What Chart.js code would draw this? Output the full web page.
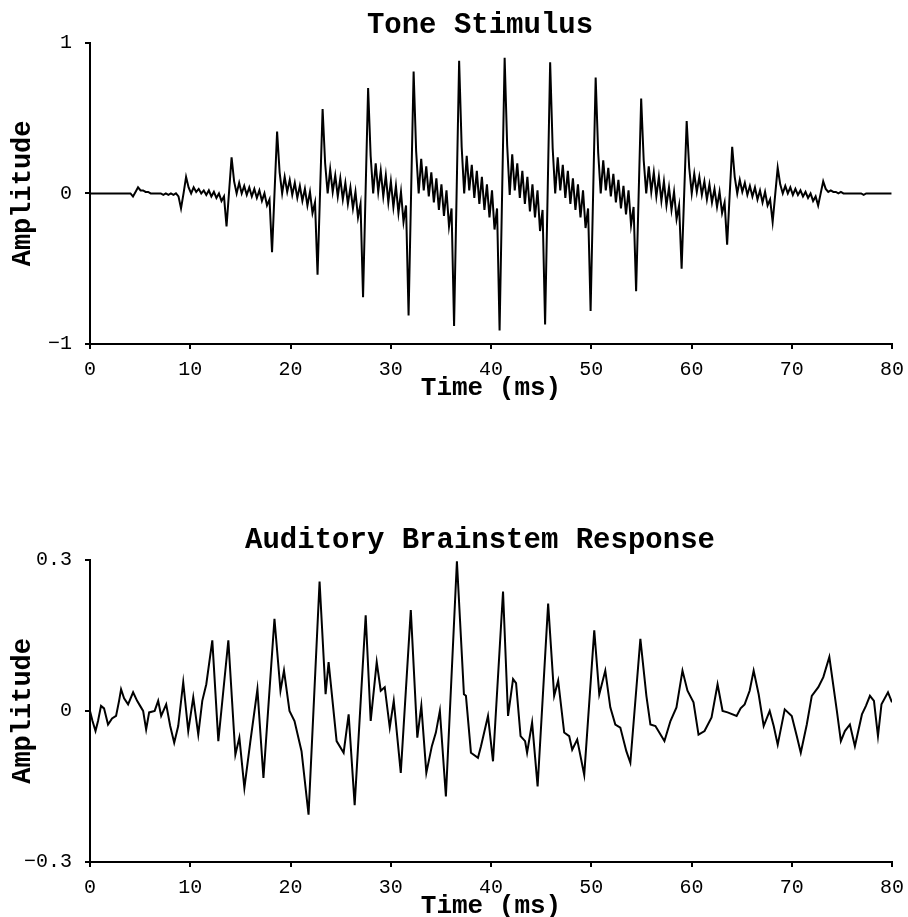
<!DOCTYPE html>
<html>
<head>
<meta charset="utf-8">
<script src="https://cdn.jsdelivr.net/npm/chart.js@4.4.1/dist/chart.umd.min.js"></script>
<style>
  html, body { margin: 0; padding: 0; background: #fff; overflow: hidden; }
  #wrap { position: relative; width: 908px; height: 917px; overflow: hidden; }
  canvas { position: absolute; left: 0; }
  #stim-chart { top: 0; }
  #abr-chart { top: 458px; }
</style>
</head>
<body>
<div id="wrap">
  <canvas id="stim-chart" width="908" height="454"></canvas>
  <canvas id="abr-chart" width="908" height="470"></canvas>
</div>
<script>
// Tone stimulus: one sample every stimStep ms, one row per burst period
var stimStep = 0.2522;
var stimAmp = [
  0, 0, 0, 0, 0, 0, 0, 0, 0, 0, 0, 0, 0, 0, 0, 0, 0, -0.02,
  0.01, 0.04, 0.02, 0.02, 0.01, 0.01, 0, 0, 0, 0, 0, -0.01, 0, -0.01, 0, -0.01, 0, -0.02,
  -0.10, 0.0, 0.11, 0.04, 0.0, 0.04, 0.01, 0.03, 0.0, 0.02, -0.01, 0.02, -0.02, 0.01, -0.03, 0.0, -0.05, -0.02,
  -0.22, 0.01, 0.24, 0.08, 0.0, 0.07, 0.0, 0.05, -0.01, 0.04, -0.02, 0.03, -0.03, 0.02, -0.05, 0.0, -0.08, -0.04,
  -0.39, 0.01, 0.41, 0.14, 0.0, 0.11, 0.01, 0.09, -0.01, 0.07, -0.03, 0.05, -0.05, 0.03, -0.08, 0.01, -0.13, -0.06,
  -0.54, 0.01, 0.56, 0.20, 0.0, 0.16, 0.01, 0.12, -0.02, 0.10, -0.04, 0.07, -0.07, 0.04, -0.10, 0.01, -0.16, -0.07,
  -0.69, 0.01, 0.70, 0.25, 0.0, 0.20, 0.01, 0.15, -0.02, 0.12, -0.06, 0.08, -0.09, 0.05, -0.13, 0.01, -0.19, -0.08,
  -0.81, 0.0, 0.81, 0.28, 0.0, 0.23, 0.02, 0.18, -0.02, 0.14, -0.06, 0.10, -0.11, 0.06, -0.15, 0.02, -0.22, -0.10,
  -0.88, 0.0, 0.88, 0.31, 0.0, 0.25, 0.02, 0.19, -0.03, 0.15, -0.07, 0.11, -0.11, 0.06, -0.16, 0.02, -0.24, -0.10,
  -0.91, 0.0, 0.90, 0.32, -0.01, 0.26, 0.02, 0.20, -0.03, 0.15, -0.07, 0.11, -0.12, 0.06, -0.16, 0.02, -0.25, -0.11,
  -0.87, 0.0, 0.87, 0.30, 0.0, 0.24, 0.02, 0.19, -0.03, 0.15, -0.07, 0.10, -0.11, 0.06, -0.16, 0.02, -0.23, -0.10,
  -0.78, 0.0, 0.77, 0.27, 0.0, 0.22, 0.02, 0.17, -0.02, 0.13, -0.06, 0.09, -0.10, 0.05, -0.14, 0.02, -0.21, -0.09,
  -0.65, -0.01, 0.63, 0.22, 0.0, 0.18, 0.01, 0.14, -0.02, 0.11, -0.05, 0.08, -0.08, 0.04, -0.11, 0.01, -0.17, -0.08,
  -0.50, -0.01, 0.48, 0.17, 0.0, 0.13, 0.01, 0.11, -0.01, 0.08, -0.04, 0.06, -0.06, 0.03, -0.09, 0.01, -0.13, -0.06,
  -0.34, -0.01, 0.31, 0.11, 0.0, 0.09, 0.01, 0.07, -0.01, 0.05, -0.02, 0.04, -0.04, 0.02, -0.06, 0.01, -0.08, -0.04,
  -0.19, -0.01, 0.17, 0.06, 0.0, 0.05, 0.0, 0.04, -0.01, 0.03, -0.01, 0.02, -0.02, 0.01, -0.03, 0.0, -0.05, -0.02,
  -0.08, 0.0, 0.08, 0.03, 0.01, 0.02, 0.01, 0.01, 0.0, 0.01, 0, 0, 0, 0, 0, 0, 0, 0,
  -0.01, 0, 0, 0, 0, 0, 0, 0, 0, 0, 0, 0
];

// Auditory brainstem response, read point by point
var abrTime = [
  0.0, 0.25, 0.55, 0.8, 1.1, 1.4, 1.8, 2.2, 2.6, 2.9, 3.1, 3.4, 3.8, 4.3, 4.7, 5.0, 5.3, 5.6, 5.9, 6.45,
  6.8, 7.1, 7.6, 8.0, 8.4, 8.8, 9.3, 9.8, 10.3, 10.8, 11.2, 11.6, 12.2, 12.8, 13.3, 13.8, 14.5, 14.9, 15.4, 16.0,
  16.7, 17.3, 18.4, 19.0, 19.35, 19.9, 20.4, 21.1, 21.8, 22.9, 23.5, 23.8, 24.6, 25.3, 25.8, 26.4, 27.5, 28.0, 28.6, 29.0,
  29.4, 29.9, 30.3, 31.0, 32.0, 32.65, 33.05, 33.55, 34.1, 34.5, 34.9, 35.5, 36.6, 37.3, 37.5, 38.0, 38.7, 39.0, 39.7, 40.2,
  41.2, 41.7, 42.2, 42.5, 42.95, 43.4, 43.6, 44.1, 44.65, 45.7, 46.3, 46.7, 47.3, 47.8, 48.1, 48.6, 49.3, 50.3, 50.8, 51.4,
  51.9, 52.4, 52.9, 53.5, 53.9, 54.9, 55.5, 55.9, 56.4, 57.3, 57.9, 58.5, 59.1, 59.6, 60.2, 60.7, 61.3, 62.0, 62.6, 63.1,
  63.6, 64.5, 64.9, 65.3, 65.8, 66.2, 66.7, 67.2, 67.8, 68.2, 68.6, 69.3, 70.0, 70.5, 70.9, 71.5, 72.0, 72.65, 73.15, 73.75,
  74.5, 74.9, 75.3, 75.8, 76.3, 77.0, 77.4, 77.8, 78.2, 78.6, 78.95, 79.6, 80.0
];
var abrAmp = [
  0.0, -0.02, -0.04, -0.02, 0.01, 0.005, -0.027, -0.015, -0.01, 0.02, 0.043, 0.025, 0.013, 0.037, 0.02, 0.01, 0.0, -0.037, -0.003, 0.0,
  0.02, -0.01, 0.013, -0.03, -0.063, -0.03, 0.057, -0.04, 0.027, -0.047, 0.02, 0.053, 0.14, -0.06, 0.04, 0.14, -0.087, -0.053, -0.153, -0.06,
  0.043, -0.133, 0.183, 0.04, 0.08, 0.0, -0.02, -0.08, -0.206, 0.257, 0.033, 0.097, -0.06, -0.083, -0.007, -0.187, 0.19, -0.02, 0.097, 0.04,
  0.047, -0.033, 0.02, -0.123, 0.2, -0.053, 0.01, -0.123, -0.07, -0.043, 0.0, -0.17, 0.297, 0.033, 0.03, -0.083, -0.093, -0.07, -0.01, -0.1,
  0.237, -0.01, 0.063, 0.055, -0.05, -0.06, -0.083, -0.023, -0.15, 0.213, 0.03, 0.06, -0.043, -0.05, -0.077, -0.057, -0.127, 0.16, 0.033, 0.08,
  0.007, -0.027, -0.033, -0.08, -0.103, 0.143, 0.03, -0.027, -0.03, -0.06, -0.02, 0.007, 0.08, 0.04, 0.017, -0.047, -0.04, -0.013, 0.053, 0.0,
  -0.003, -0.01, 0.005, 0.013, 0.04, 0.08, 0.033, -0.03, 0.0, -0.03, -0.067, 0.003, -0.01, -0.05, -0.083, -0.027, 0.03, 0.047, 0.067, 0.107,
  0.0, -0.06, -0.04, -0.027, -0.07, -0.007, 0.01, 0.03, 0.02, -0.05, 0.013, 0.037, 0.017
];

var stimTicks = [-1, 0, 1];
var abrTicks = [-0.3, 0, 0.3];

var FONT = '"Liberation Mono", "DejaVu Sans Mono", monospace';

function toPoints(times, values) {
    var pts = [];
    for (var i = 0; i < values.length; i++) {
        pts.push({ x: times[i], y: values[i] });
    }
    return pts;
}

// the title in the reference sits a bit left of the plot centre
var titleShift = {
    id: 'titleShift',
    afterLayout: function (chart) {
        if (chart.titleBlock) {
            chart.titleBlock.left = 68;
        }
    }
};

function makeChart(id, titleText, points, yTicks, titlePad, bottomPad) {
    var ctx = document.getElementById(id).getContext('2d');
    var axisGrid = { drawOnChartArea: false, color: '#000', lineWidth: 2, tickLength: 5 };
    var axisBorder = { display: true, color: '#000', width: 2 };

    return new Chart(ctx, {
        type: 'line',
        data: {
            datasets: [{
                data: points,
                borderColor: '#000',
                borderWidth: 2,
                pointRadius: 0,
                tension: 0,
                fill: false
            }]
        },
        plugins: [titleShift],
        options: {
            responsive: false,
            animation: false,
            devicePixelRatio: 1,
            layout: { padding: { left: 0, right: 16, top: 0, bottom: bottomPad } },
            plugins: {
                legend: { display: false },
                tooltip: { enabled: false },
                title: {
                    display: true,
                    text: titleText,
                    color: '#000',
                    fullSize: true,
                    font: { family: FONT, size: 29, weight: 'bold' },
                    padding: titlePad
                }
            },
            scales: {
                x: {
                    type: 'linear',
                    min: 0,
                    max: 80,
                    ticks: {
                        stepSize: 10,
                        padding: 9,
                        maxRotation: 0,
                        color: '#000',
                        font: { family: FONT, size: 20 }
                    },
                    grid: axisGrid,
                    border: axisBorder,
                    title: {
                        display: true,
                        text: 'Time (ms)',
                        color: '#000',
                        font: { family: FONT, size: 26, weight: 'bold' },
                        padding: 0
                    },
                    afterFit: function (s) {
                        s.height = 60;
                        s.paddingLeft = 0;
                        s.paddingRight = 0;
                    }
                },
                y: {
                    type: 'linear',
                    min: yTicks[0],
                    max: yTicks[yTicks.length - 1],
                    afterBuildTicks: function (s) {
                        s.ticks = yTicks.map(function (v) { return { value: v }; });
                    },
                    ticks: {
                        padding: 13,
                        color: '#000',
                        font: { family: FONT, size: 20 },
                        callback: function (v) { return String(v).replace('-', '\u2212'); }
                    },
                    grid: axisGrid,
                    border: axisBorder,
                    title: {
                        display: true,
                        text: 'Amplitude',
                        color: '#000',
                        font: { family: FONT, size: 27, weight: 'bold' },
                        padding: { top: 7, bottom: 0 }
                    },
                    afterFit: function (s) {
                        s.width = 90;
                    }
                }
            }
        }
    });
}

var stimTime = stimAmp.map(function (v, i) { return i * stimStep; });

makeChart('stim-chart', 'Tone Stimulus', toPoints(stimTime, stimAmp), stimTicks, { top: 8, bottom: 0 }, 50);
makeChart('abr-chart', 'Auditory Brainstem Response', toPoints(abrTime, abrAmp), abrTicks, { top: 65, bottom: 2 }, 6);
</script>
</body>
</html>
